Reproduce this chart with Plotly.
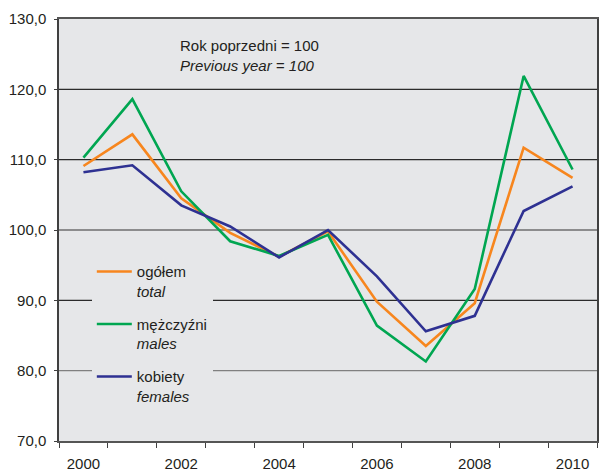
import plotly.graph_objects as go

years = list(range(2000, 2011))
total = [109.1, 113.6, 104.5, 99.6, 96.2, 99.8, 89.8, 83.5, 89.6, 111.7, 107.4]
males = [110.3, 118.6, 105.5, 98.4, 96.3, 99.3, 86.4, 81.3, 91.6, 121.9, 108.6]
females = [108.2, 109.2, 103.5, 100.5, 96.1, 100.0, 93.4, 85.6, 87.8, 102.7, 106.2]

series_names = ["ogółem<br><i>total</i>", "mężczyźni<br><i>males</i>", "kobiety<br><i>females</i>"]
series_colors = ["#F7861E", "#00A651", "#2E3192"]

y_ticks = [70, 80, 90, 100, 110, 120, 130]
y_tick_labels = ["70,0", "80,0", "90,0", "100,0", "110,0", "120,0", "130,0"]
grid_values = [80, 90, 100, 110, 120]
grid_colors = ["#808080", "#2B2B2B", "#6E6E6E", "#2B2B2B", "#2B2B2B"]
x_label_years = [2000, 2002, 2004, 2006, 2008, 2010]

FONT = "Liberation Sans, Arial, sans-serif"
DARK = "#231F20"

fig = go.Figure()
for i, (name, vals, col) in enumerate(zip(series_names, [total, males, females], series_colors)):
    fig.add_trace(go.Scatter(
        x=years, y=vals, mode="lines", name=name,
        line=dict(color=col, width=2.6),
        legendgroup=str(i),
    ))

for v, c in zip(grid_values, grid_colors):
    fig.add_shape(type="line", xref="x domain", yref="y", x0=0, x1=1, y0=v, y1=v,
                  line=dict(color=c, width=1.4), layer="below")

fig.add_annotation(
    xref="x domain", yref="y domain", x=0.222, y=0.962,
    xanchor="left", yanchor="top", align="left", showarrow=False,
    text="Rok poprzedni = 100<br><i>Previous year = 100</i>",
    font=dict(family=FONT, size=15, color=DARK),
)

fig.update_layout(
    width=599, height=472,
    margin=dict(l=59, r=2, t=19, b=31, autoexpand=False),
    paper_bgcolor="white",
    plot_bgcolor="#E6E7E9",
    font=dict(family=FONT, size=15, color=DARK),
    showlegend=True,
    legend=dict(
        x=0.061, y=0.44, xanchor="left", yanchor="top",
        bgcolor="#E6E7E9", borderwidth=0,
        font=dict(family=FONT, size=15, color=DARK),
        valign="top", tracegroupgap=10.5, traceorder="grouped",
        itemwidth=35,
    ),
    xaxis=dict(
        range=[1999.5, 2010.5],
        tickvals=x_label_years, ticktext=[str(y) for y in x_label_years],
        ticks="", showgrid=False, zeroline=False,
        minor=dict(tick0=1999.5, dtick=1, ticks="outside", ticklen=5, tickcolor="#404040", tickwidth=1.3, showgrid=False),
        showline=True, linecolor="#555555", linewidth=1.5, mirror=True,
        ticklabelstandoff=8,
        tickfont=dict(family=FONT, size=15, color=DARK),
    ),
    yaxis=dict(
        range=[70, 130],
        tickvals=y_ticks, ticktext=y_tick_labels,
        ticks="outside", ticklen=3, tickcolor="#404040",
        showgrid=False,
        showline=True, linecolor="#404040", linewidth=1.5, mirror=True,
        zeroline=False, ticklabelstandoff=5,
        tickfont=dict(family=FONT, size=15, color=DARK),
    ),
)

fig.write_html("out.html", config={"displayModeBar": False},
               post_script="document.body.style.margin='0';document.body.style.overflow='hidden';")
